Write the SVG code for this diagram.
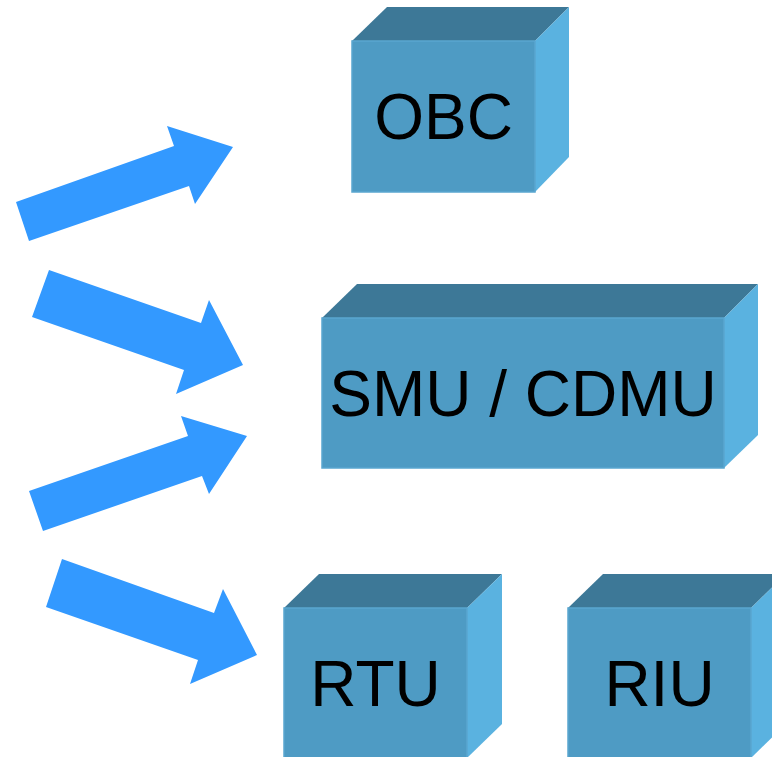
<svg xmlns="http://www.w3.org/2000/svg" width="772" height="757" viewBox="0 0 772 757">
<style>
.front{fill:#4e9bc4;stroke:#5aa6d0;stroke-width:1.5}
.top{fill:#3d7897}
.side{fill:#5ab2e0}
.lbl{font-family:"Liberation Sans",Arial,sans-serif;font-size:64px;fill:#000;text-anchor:middle}
.arrow{fill:#3399ff}
</style>
<rect width="772" height="757" fill="#fff"/>
<g id="connectors">
<polygon class="arrow" points="29,241 16,202 174,146 167,126 233,147 195,204 189,186"/>
<polygon class="arrow" points="49,270 32,317 184,370 176,394 243,365 209,300 201,323"/>
<polygon class="arrow" points="29,491 43,531 202,476 209,494 247,436 181,416 188,436"/>
<polygon class="arrow" points="62,559 46,607 198,660 190,684 257,655 223,589 214,613"/>
</g>
<g id="obc">
<polygon class="top" points="352,41 387,7 569,7 535,41"/>
<polygon class="side" points="535,41 569,7 569,157 535,192"/>
<rect class="front" x="352" y="41" width="183" height="151"/>
<text class="lbl" x="443.5" y="139">OBC</text>
</g>
<g id="smu-cdmu">
<polygon class="top" points="322,318 357,284 758,284 724,318"/>
<polygon class="side" points="724,318 758,284 758,435 724,468"/>
<rect class="front" x="322" y="318" width="402" height="150"/>
<text class="lbl" x="523" y="416">SMU / CDMU</text>
</g>
<g id="rtu">
<polygon class="top" points="284,608 319,574 502,574 467,608"/>
<polygon class="side" points="467,608 502,574 502,724 467,758"/>
<rect class="front" x="284" y="608" width="183" height="152"/>
<text class="lbl" x="375.5" y="706">RTU</text>
</g>
<g id="riu">
<polygon class="top" points="568,608 603,574 786,574 751,608"/>
<polygon class="side" points="751,608 786,574 786,724 751,758"/>
<rect class="front" x="568" y="608" width="183" height="152"/>
<text class="lbl" x="659.5" y="706">RIU</text>
</g>
</svg>
